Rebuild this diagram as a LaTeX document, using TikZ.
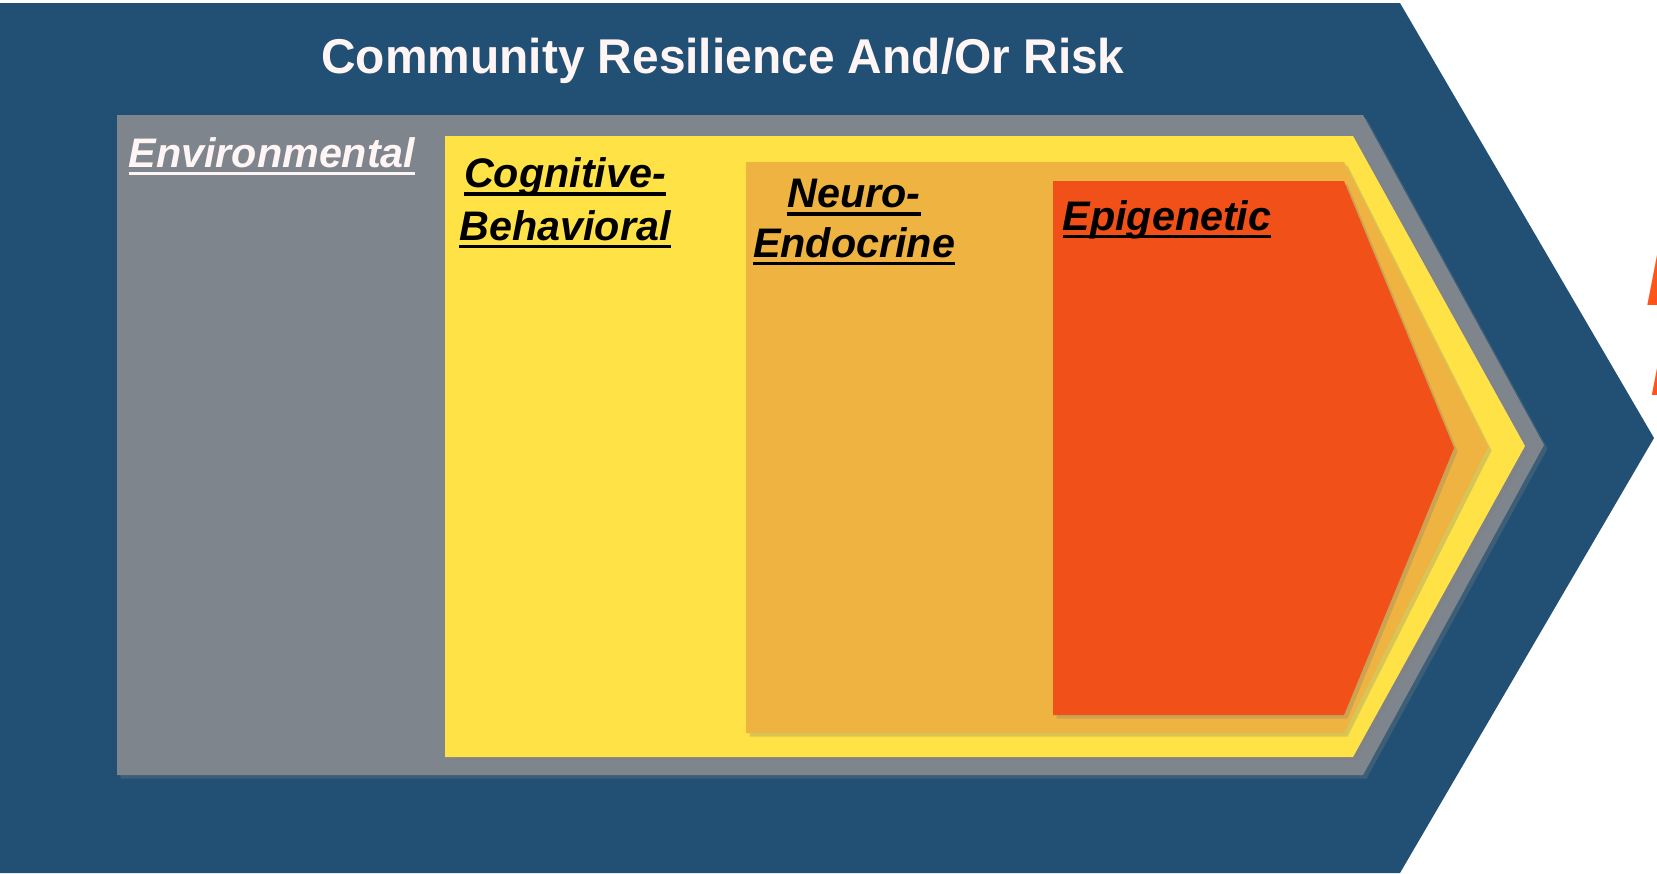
\documentclass[tikz,border=0pt]{standalone}
\usepackage{fontspec}
\setmainfont{Liberation Sans}
\usepackage{tikz}
\usetikzlibrary{shadows}
\usepackage{xcolor}
\definecolor{riskblue}{RGB}{33,80,116}
\definecolor{envgray}{RGB}{127,133,141}
\definecolor{cogyellow}{RGB}{255,226,70}
\definecolor{neuroamber}{RGB}{238,179,64}
\definecolor{epired}{RGB}{241,81,24}
\definecolor{titlewhite}{RGB}{255,245,245}
\definecolor{edgeorange}{RGB}{255,85,25}
\newcommand{\ulbox}[1]{\setbox0=\hbox{#1}\rlap{\rule[-0.2em]{\wd0}{0.09em}}\box0}

\tikzset{
  layer/.style={drop shadow={shadow xshift=2pt,shadow yshift=-2pt,opacity=0.3}},
  lbl/.style={font=\fontsize{23.5}{30}\selectfont\bfseries\itshape,align=center,anchor=base,inner sep=0pt},
}

\begin{document}
\begin{tikzpicture}[x=0.02cm,y=-0.02cm]
    \useasboundingbox (0,0) rectangle (1657,873);
    % Community
    \fill[riskblue] (0,3) -- (1400,3) -- (1654,438) -- (1400,873) -- (0,873) -- cycle;
    \node (title) [font=\fontsize{27.8}{33}\selectfont\bfseries,text=titlewhite,anchor=base,inner sep=0pt]
        at (723,73) {\scalebox{0.98}[1]{Community Resilience And/Or Risk}};
    % Environmental
    \path[layer,fill=envgray] (117,115) -- (1363,115) -- (1544,445) -- (1363,775) -- (117,775) -- cycle;
    \node (env) [lbl,text=titlewhite] at (272,167) {\ulbox{Environmental}};
    % Cognitive-behavioral (base = last line)
    \path[layer,fill=cogyellow] (445,136) -- (1353,136) -- (1525,446) -- (1353,757) -- (445,757) -- cycle;
    \node (cog) [lbl] at (565,240) {\ulbox{Cognitive-}\\\ulbox{Behavioral}};
    % Neuro-endocrine
    \path[layer,fill=neuroamber] (746,162) -- (1344,162) -- (1488,447) -- (1344,733) -- (746,733) -- cycle;
    \node (neuro) [lbl,font=\fontsize{23.5}{28.3}\selectfont\bfseries\itshape] at (854,257) {\ulbox{Neuro-}\\\ulbox{Endocrine}};
    % Epigenetic
    \path[layer,fill=epired] (1053,181) -- (1344,181) -- (1454,448) -- (1344,715) -- (1053,715) -- cycle;
    \node (epi) [lbl] at (1167,230) {\ulbox{Epigenetic}};
    % cut-off text at the right edge
    \begin{scope}
        \clip (0,0) rectangle (1657,873);
        \node (edgeA) [font=\fontsize{42}{50}\selectfont\bfseries\itshape,text=edgeorange,anchor=base west,inner sep=0pt]
            at (1646,305) {E};
        \node (edgeB) [font=\fontsize{25}{30}\selectfont\bfseries\itshape,text=edgeorange,anchor=base west,inner sep=0pt]
            at (1651,395) {I};
    \end{scope}
\end{tikzpicture}
\end{document}
